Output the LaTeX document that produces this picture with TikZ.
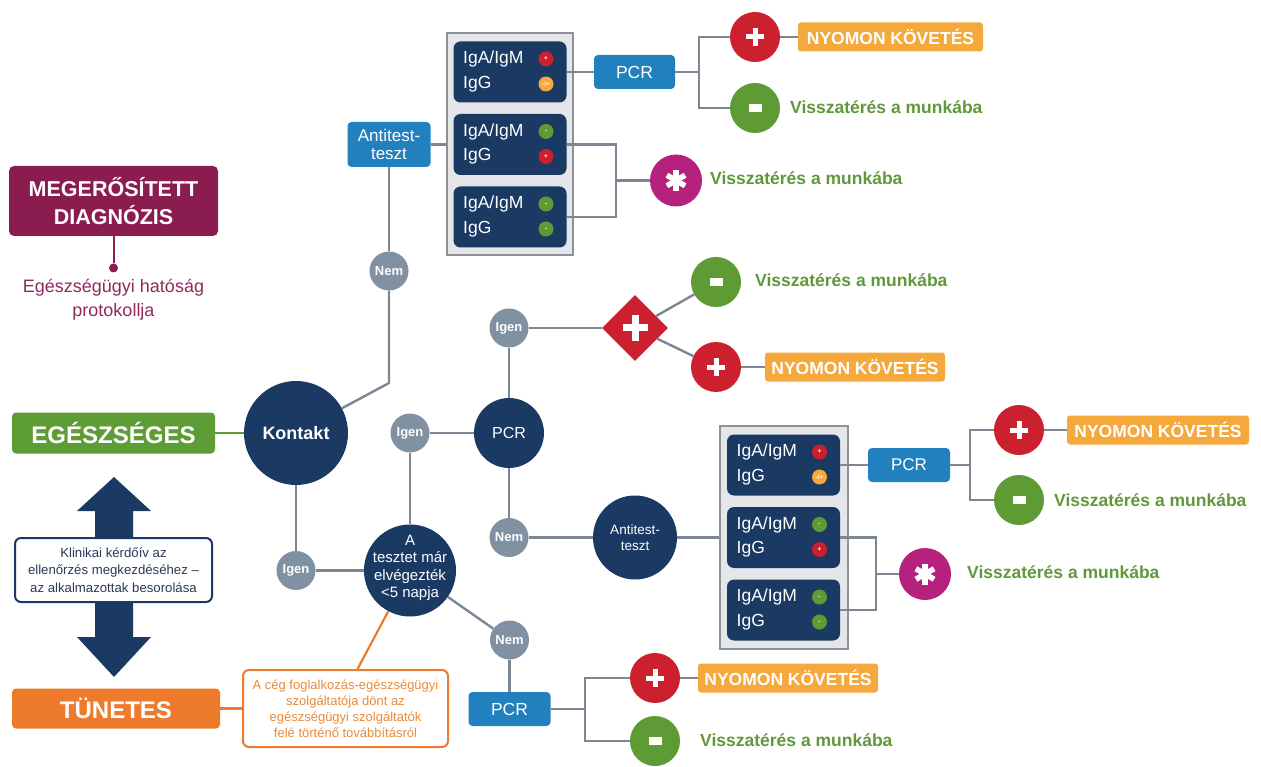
\documentclass[tikz,border=0pt]{standalone}
\usepackage{fontspec}
\setmainfont{Liberation Sans}
\usetikzlibrary{shapes.geometric}
\definecolor{navy}{RGB}{26,57,99}
\definecolor{gcol}{RGB}{128,145,162}
\definecolor{lcol}{RGB}{125,135,147}
\definecolor{bcol}{RGB}{33,128,190}
\definecolor{rcol}{RGB}{205,32,46}
\definecolor{grc}{RGB}{94,155,52}
\definecolor{grt}{RGB}{96,152,58}
\definecolor{egc}{RGB}{94,156,54}
\definecolor{ylc}{RGB}{245,168,60}
\definecolor{orc}{RGB}{238,122,43}
\definecolor{otx}{RGB}{232,140,60}
\definecolor{mgc}{RGB}{180,34,126}
\definecolor{mrn}{RGB}{139,28,80}
\definecolor{mtx}{RGB}{142,42,94}
\definecolor{pnf}{RGB}{228,230,234}
\definecolor{pnb}{RGB}{140,146,154}
\definecolor{ktx}{RGB}{43,58,85}
\newcommand\plusmark[1]{\draw[white, line width=5pt] ([xshift=-9pt]#1.center) -- ([xshift=9pt]#1.center) ([yshift=-9pt]#1.center) -- ([yshift=9pt]#1.center);}
\newcommand\minusmark[1]{\draw[white, line width=7.5pt] ([xshift=-6.5pt]#1.center) -- ([xshift=6.5pt]#1.center);}
\newcommand\starmark[1]{\foreach \aa in {90,30,150} {\draw[white, line width=5.5pt] ([shift={(\aa:10.5)}]#1.center) -- ([shift={(\aa+180:10.5)}]#1.center);}}
\newcommand\igbox[7]{%
 \node[sub] (#1) at (#2,#3) {};
 \node[ig] (#1t) at ([xshift=-47pt,yshift=13pt]#1.center) {IgA/IgM};
 \node[ig] (#1u) at ([xshift=-47pt,yshift=-12pt]#1.center) {IgG};
 \node[dt,#4] (#1p) at ([xshift=36pt,yshift=13pt]#1.center) {#5};
 \node[dt,#6] (#1q) at ([xshift=36pt,yshift=-12pt]#1.center) {#7};}
\begin{document}
\begin{tikzpicture}[x=1pt,y=-1pt,
 conn/.style={draw=lcol, line width=2.4pt},
 gnode/.style={circle, fill=gcol, text=white, font=\bfseries\fontsize{13}{14}\selectfont, minimum size=39pt, inner sep=0pt},
 navyc/.style={circle, fill=navy, text=white, inner sep=0pt, align=center},
 bbox/.style={rectangle, rounded corners=4pt, fill=bcol, text=white, inner sep=0pt, align=center},
 rc/.style={circle, fill=rcol, minimum size=50pt, inner sep=0pt},
 gc/.style={circle, fill=grc, minimum size=50pt, inner sep=0pt},
 mc/.style={circle, fill=mgc, minimum size=52pt, inner sep=0pt},
 nybox/.style={rectangle, rounded corners=3pt, fill=ylc, text=white, font=\bfseries\fontsize{17.5}{20}\selectfont, minimum height=29pt, minimum width=182pt, inner sep=0pt},
 rt/.style={text=grt, font=\bfseries\fontsize{17.5}{20}\selectfont, anchor=west, inner sep=0pt},
 panel/.style={rectangle, draw=pnb, fill=pnf, line width=2pt, inner sep=0pt},
 sub/.style={rectangle, fill=navy, rounded corners=7pt, minimum width=113pt, minimum height=61pt, inner sep=0pt},
 ig/.style={text=white, font=\fontsize{17.5}{20}\selectfont, anchor=west, inner sep=0pt},
 dt/.style={circle, minimum size=15pt, inner sep=0pt, text=white, font=\bfseries\fontsize{6.5}{7}\selectfont},
 dr/.style={fill=rcol}, dg/.style={fill=grc}, dy/.style={fill=ylc},
 oline/.style={draw=orc, line width=2.2pt},
 gline/.style={draw=egc, line width=2.4pt}
]
\useasboundingbox (0,0) rectangle (1261,767);

% ---------- left column ----------
\node[rectangle, rounded corners=5pt, fill=mrn, text=white, font=\bfseries\fontsize{21.5}{28}\selectfont, align=center, minimum width=209pt, minimum height=70pt, inner sep=0pt] (diag) at (113.5,201) {MEGERŐSÍTETT\\DIAGNÓZIS};
\node[circle, fill=mrn, minimum size=9pt, inner sep=0pt] (mdot) at (113.5,268) {};
\draw[mrn, line width=2pt] (diag.south) -- (mdot);
\node[text=mtx, font=\fontsize{18}{24}\selectfont, align=center] (prot) at (113.5,300) {Egészségügyi hatóság\\protokollja};

\node[rectangle, rounded corners=4pt, fill=egc, text=white, font=\bfseries\fontsize{24}{28}\selectfont, minimum width=203pt, minimum height=41pt, inner sep=0pt] (egs) at (113.5,433) {EGÉSZSÉGES};
\node[rectangle, rounded corners=4pt, fill=orc, text=white, font=\bfseries\fontsize{24}{28}\selectfont, minimum width=208pt, minimum height=40pt, inner sep=0pt] (tun) at (116,708.5) {TÜNETES};

\fill[navy] (114,477) -- (151,511) -- (133,511) -- (133,637) -- (151,637) -- (114,677) -- (77,637) -- (95,637) -- (95,511) -- (77,511) -- cycle;
\node[rectangle, rounded corners=6pt, draw=navy, line width=2pt, fill=white, text=ktx, font=\fontsize{13.2}{17.5}\selectfont, align=center, minimum width=197pt, minimum height=64pt, inner sep=0pt] (klin) at (113.5,570) {Klinikai kérdőív az\\ellenőrzés megkezdéséhez –\\az alkalmazottak besorolása};

\node[navyc, minimum size=104pt, font=\bfseries\fontsize{18}{20}\selectfont] (kon) at (296,433) {Kontakt};

% ---------- upper branch ----------
\node[gnode] (nemA) at (389,271) {Nem};
\node[bbox, minimum width=83pt, minimum height=45pt, font=\fontsize{17}{18}\selectfont] (antA) at (389,144.5) {Antitest-\\teszt};
\node[panel, minimum width=126pt, minimum height=222pt] (panA) at (510,144.5) {};
\igbox{sAa}{510}{72}{dr}{+}{dy}{-/+}
\igbox{sAb}{510}{144.5}{dg}{-}{dr}{+}
\igbox{sAc}{510}{217}{dg}{-}{dg}{-}
\node[bbox, minimum width=81pt, minimum height=34pt, font=\fontsize{17.5}{20}\selectfont] (pcrA) at (634.5,72) {PCR};
\node[rc] (plA) at (755,37) {}; \plusmark{plA}
\node[gc] (miA) at (755,108) {}; \minusmark{miA}
\node[nybox, minimum width=185pt] (nyA) at (890.5,37) {NYOMON KÖVETÉS};
\node[rt] (rtA) at (790,107) {Visszatérés a munkába};
\node[mc] (stA) at (676,180.5) {}; \starmark{stA}
\node[rt] (rtA2) at (710,178) {Visszatérés a munkába};

% ---------- middle ----------
\node[gnode] (igA) at (509,328) {Igen};
\node[diamond, fill=rcol, minimum size=66pt, inner sep=0pt] (dia) at (635,328) {};
\draw[white, line width=7pt] ([xshift=-12.5pt]dia.center) -- ([xshift=12.5pt]dia.center) ([yshift=-12.5pt]dia.center) -- ([yshift=12.5pt]dia.center);
\node[gc] (miM) at (716,282) {}; \minusmark{miM}
\node[rc] (plM) at (716,367) {}; \plusmark{plM}
\node[rt] (rtM) at (755,280) {Visszatérés a munkába};
\node[nybox, minimum width=180pt] (nyM) at (855,367) {NYOMON KÖVETÉS};
\node[gnode] (igB) at (410,433) {Igen};
\node[navyc, minimum size=70pt, font=\fontsize{16}{18}\selectfont] (pcrC) at (509,433) {PCR};
\node[gnode] (nemB) at (509,537.5) {Nem};
\node[navyc, minimum size=84pt, font=\fontsize{13.5}{16}\selectfont] (antC) at (635,537.5) {Antitest-\\teszt};
\node[panel, minimum width=128pt, minimum height=223pt] (panB) at (784,537.5) {};
\igbox{sBa}{783.5}{465}{dr}{+}{dy}{-/+}
\igbox{sBb}{783.5}{537.5}{dg}{-}{dr}{+}
\igbox{sBc}{783.5}{610}{dg}{-}{dg}{-}
\node[bbox, minimum width=82pt, minimum height=34pt, font=\fontsize{17}{20}\selectfont] (pcrB) at (909,465) {PCR};
\node[rc] (plB) at (1019,430) {}; \plusmark{plB}
\node[gc] (miB) at (1019,500) {}; \minusmark{miB}
\node[nybox, minimum width=182pt] (nyB) at (1158,430) {NYOMON KÖVETÉS};
\node[rt] (rtB) at (1054,500) {Visszatérés a munkába};
\node[mc] (stB) at (925,574) {}; \starmark{stB}
\node[rt] (rtB2) at (967,572) {Visszatérés a munkába};

% ---------- lower ----------
\node[gnode] (igC) at (296,570.5) {Igen};
\node[navyc, minimum size=92pt] (acirc) at (410,570.5) {};
\node[text=white, align=center, font=\fontsize{15}{17.5}\selectfont, inner sep=0pt] (atext) at (410,568) {A\\tesztet már\\elvégezték\\<5 napja};
\node[gnode] (nemC) at (509.5,640) {Nem};
\node[bbox, minimum width=82pt, minimum height=34pt, font=\fontsize{17.5}{20}\selectfont] (pcrD) at (509.5,709) {PCR};
\node[rc] (plC) at (655,678) {}; \plusmark{plC}
\node[gc] (miC) at (655,741) {}; \minusmark{miC}
\node[nybox, minimum width=180pt] (nyC) at (788,678) {NYOMON KÖVETÉS};
\node[rt] (rtC) at (700,740) {Visszatérés a munkába};
\node[rectangle, rounded corners=6pt, draw=orc, line width=2pt, fill=white, text=otx, font=\fontsize{13}{16}\selectfont, align=center, minimum width=205pt, minimum height=77pt, inner sep=0pt] (obox) at (345.5,708.5) {A cég foglalkozás-egészségügyi\\szolgáltatója dönt az\\egészségügyi szolgáltatók\\felé történő továbbításról};

% ---------- connectors ----------
\draw[gline] (egs) -- (kon);
\draw[oline] (tun) -- (obox);
\draw[oline] ([xshift=12pt]obox.north) -- (acirc);
\draw[conn] (kon) -- (igC);
\draw[conn] (igC) -- (acirc);
\draw[conn] (nemA) -- ++(0,112) -- (kon);
\draw[conn] (antA) -- (nemA);
\draw[conn] (antA.east) -- (panA.west);
\draw[conn] (sAa.east) -- (pcrA.west);
\draw[conn] (pcrA.east) -- ++(23.5,0) coordinate (brA) |- (plA);
\draw[conn] (brA) |- (miA);
\draw[conn] (plA) -- (nyA);
\draw[conn] (sAb.east) -- ++(49,0) coordinate (bkA) |- (sAc.east);
\draw[conn] (stA) -- (stA -| bkA);

\draw[conn] (acirc) -- (igB);
\draw[conn] (igB) -- (pcrC);
\draw[conn] (pcrC) -- (igA);
\draw[conn] (igA) -- (dia);
\draw[conn] (dia) -- (miM);
\draw[conn] (dia) -- (plM);
\draw[conn] (plM) -- (nyM);
\draw[conn] (pcrC) -- (nemB);
\draw[conn] (nemB) -- (antC);
\draw[conn] (antC) -- (panB.west);
\draw[conn] (sBa.east) -- (pcrB.west);
\draw[conn] (pcrB.east) -- ++(20,0) coordinate (brB) |- (plB);
\draw[conn] (brB) |- (miB);
\draw[conn] (plB) -- (nyB);
\draw[conn] (sBb.east) -- ++(36,0) coordinate (bkB) |- (sBc.east);
\draw[conn] (stB) -- (stB -| bkB);

\draw[conn] (acirc) -- (nemC);
\draw[conn] (nemC) -- (pcrD);
\draw[conn] (pcrD.east) -- ++(34,0) coordinate (brC) |- (plC);
\draw[conn] (brC) |- (miC);
\draw[conn] (plC) -- (nyC);
\end{tikzpicture}
\end{document}
